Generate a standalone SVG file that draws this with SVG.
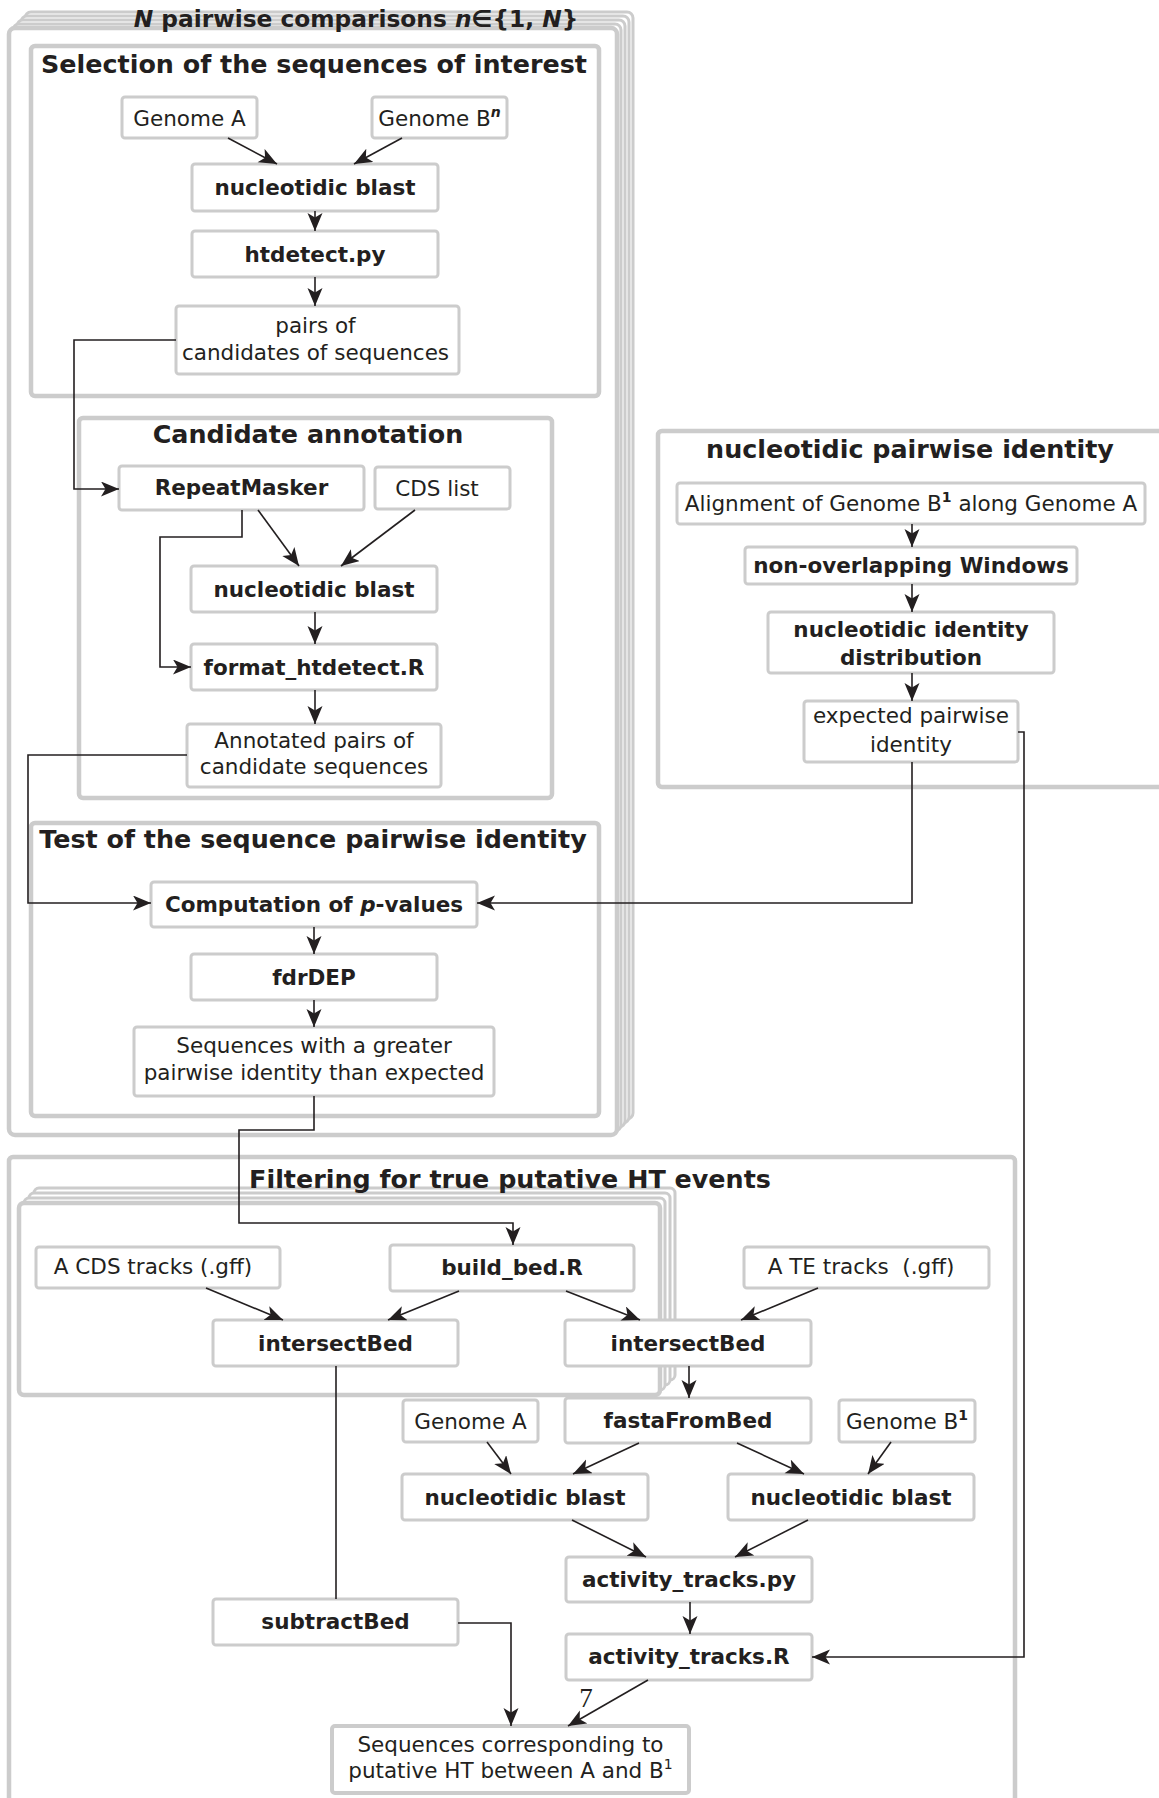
<svg xmlns="http://www.w3.org/2000/svg" width="1159" height="1798" viewBox="0 0 1159 1798">
<style>
text{font-family:"DejaVu Sans","Liberation Sans",sans-serif;fill:#231f20}
.t{font-size:25.4px;font-weight:bold;text-anchor:middle}
.n{font-size:21.5px;text-anchor:middle}
.b{font-size:21.5px;font-weight:bold;text-anchor:middle}
.box rect{fill:#fff;stroke:#cccccc;stroke-width:3}
.frame{fill:#fff;stroke:#cccccc;stroke-width:4.5}
.stack{fill:#fff;stroke:#cccccc;stroke-width:3}
.c path{fill:none;stroke:#231f20;stroke-width:1.6}
.sup{font-size:14px}
</style>
<defs>
<marker id="a" markerUnits="userSpaceOnUse" markerWidth="20" markerHeight="18" refX="18" refY="7.5" orient="auto">
<path d="M0,0 L18,7.5 L0,15 L4.5,7.5 z" fill="#231f20"/>
</marker>
</defs>

<!-- Outer stacked frame -->
<g id="frame-n-pairwise">
<rect class="stack" x="25" y="12" width="608" height="1107" rx="6"/>
<rect class="stack" x="21" y="16" width="608" height="1107" rx="6"/>
<rect class="stack" x="17" y="20" width="608" height="1107" rx="6"/>
<rect class="stack" x="13" y="24" width="608" height="1107" rx="6"/>
<rect class="frame" x="9" y="28" width="608" height="1107" rx="6"/>
<text x="356" y="27" style="font-size:23.3px;font-weight:bold;text-anchor:middle"><tspan font-style="italic">N</tspan> pairwise comparisons <tspan font-style="italic">n</tspan>∈{1, <tspan font-style="italic">N</tspan>}</text>
</g>

<g id="frame-selection">
<rect class="frame" x="31" y="46" width="568" height="350" rx="4"/>
<text class="t" x="314" y="73">Selection of the sequences of interest</text>
</g>
<g id="frame-annotation">
<rect class="frame" x="79" y="418" width="473" height="380" rx="4"/>
<text class="t" x="308" y="443">Candidate annotation</text>
</g>
<g id="frame-test">
<rect class="frame" x="31" y="823" width="568" height="293" rx="4"/>
<text class="t" x="313" y="848">Test of the sequence pairwise identity</text>
</g>
<g id="frame-npi">
<rect class="frame" x="658" y="431" width="520" height="356" rx="4"/>
<text class="t" x="910" y="458">nucleotidic pairwise identity</text>
</g>
<g id="frame-filtering">
<rect class="frame" x="9" y="1157" width="1006" height="700" rx="4"/>
</g>
<g id="frame-inner-stack">
<rect class="stack" x="34" y="1188" width="641" height="192" rx="5"/>
<rect class="stack" x="29" y="1193" width="641" height="192" rx="5"/>
<rect class="stack" x="24" y="1198" width="641" height="192" rx="5"/>
<rect class="frame" x="19" y="1203" width="641" height="192" rx="5"/>
</g>
<text class="t" x="510" y="1188">Filtering for true putative HT events</text>

<!-- Nodes -->
<g class="box">
<g id="sel-genomeA"><rect x="122" y="97" width="135" height="41" rx="3"/><text class="n" x="189.5" y="125.5">Genome A</text></g>
<g id="sel-genomeB"><rect x="372" y="97" width="135" height="41" rx="3"/><text class="n" x="439.5" y="125.5">Genome B<tspan class="sup" dy="-9" font-weight="bold" font-style="italic">n</tspan></text></g>
<g id="sel-blast"><rect x="192" y="164" width="246" height="47" rx="3"/><text class="b" x="315" y="195">nucleotidic blast</text></g>
<g id="sel-htdetect"><rect x="192" y="231" width="246" height="46" rx="3"/><text class="b" x="315" y="261.5">htdetect.py</text></g>
<g id="sel-pairs"><rect x="176" y="306" width="283" height="68" rx="3"/><text class="n" x="315.5" y="333">pairs of</text><text class="n" x="315.5" y="360">candidates of sequences</text></g>

<g id="ann-repeatmasker"><rect x="119" y="466" width="245" height="44" rx="3"/><text class="b" x="241.5" y="494.5">RepeatMasker</text></g>
<g id="ann-cds"><rect x="375" y="467" width="135" height="42" rx="3"/><text class="n" x="437" y="496">CDS list</text></g>
<g id="ann-blast"><rect x="191" y="566" width="246" height="46" rx="3"/><text class="b" x="314" y="596.5">nucleotidic blast</text></g>
<g id="ann-format"><rect x="191" y="644" width="246" height="46" rx="3"/><text class="b" x="314" y="674.5">format_htdetect.R</text></g>
<g id="ann-annotated"><rect x="187" y="724" width="254" height="63" rx="3"/><text class="n" x="314" y="748">Annotated pairs of</text><text class="n" x="314" y="774">candidate sequences</text></g>

<g id="test-computation"><rect x="151" y="882" width="326" height="45" rx="3"/><text class="b" x="314" y="912">Computation of <tspan font-style="italic">p</tspan>-values</text></g>
<g id="test-fdrdep"><rect x="191" y="954" width="246" height="46" rx="3"/><text class="b" x="314" y="984.5">fdrDEP</text></g>
<g id="test-greater"><rect x="134" y="1027" width="360" height="69" rx="3"/><text class="n" x="314" y="1053">Sequences with a greater</text><text class="n" x="314" y="1080">pairwise identity than expected</text></g>

<g id="npi-alignment"><rect x="677" y="483" width="468" height="41" rx="3"/><text class="n" x="911" y="511">Alignment of Genome B<tspan class="sup" dy="-9" font-weight="bold">1</tspan><tspan dy="9"> along Genome A</tspan></text></g>
<g id="npi-windows"><rect x="745" y="547" width="332" height="37" rx="3"/><text class="b" x="911" y="573">non-overlapping Windows</text></g>
<g id="npi-distribution"><rect x="768" y="612" width="286" height="61" rx="3"/><text class="b" x="911" y="637">nucleotidic identity</text><text class="b" x="911" y="665">distribution</text></g>
<g id="npi-expected"><rect x="804" y="701" width="214" height="61" rx="3"/><text class="n" x="911" y="723">expected pairwise</text><text class="n" x="911" y="752">identity</text></g>

<g id="f-cds-tracks"><rect x="36" y="1247" width="244" height="41" rx="3"/><text class="n" x="153" y="1274">A CDS tracks (.gff)</text></g>
<g id="f-build-bed"><rect x="390" y="1245" width="244" height="46" rx="3"/><text class="b" x="512" y="1275">build_bed.R</text></g>
<g id="f-te-tracks"><rect x="744" y="1247" width="245" height="41" rx="3"/><text class="n" x="861" y="1274" xml:space="preserve">A TE tracks  (.gff)</text></g>
<g id="f-intersect-l"><rect x="213" y="1320" width="245" height="46" rx="3"/><text class="b" x="335.5" y="1350.5">intersectBed</text></g>
<g id="f-intersect-r"><rect x="565" y="1320" width="246" height="46" rx="3"/><text class="b" x="688" y="1350.5">intersectBed</text></g>
<g id="f-genomeA"><rect x="403" y="1400" width="135" height="42" rx="3"/><text class="n" x="470.5" y="1428.5">Genome A</text></g>
<g id="f-fasta"><rect x="565" y="1398" width="246" height="45" rx="3"/><text class="b" x="688" y="1428">fastaFromBed</text></g>
<g id="f-genomeB"><rect x="839" y="1400" width="136" height="42" rx="3"/><text class="n" x="907" y="1428.5">Genome B<tspan class="sup" dy="-9" font-weight="bold">1</tspan></text></g>
<g id="f-blast-l"><rect x="402" y="1474" width="246" height="46" rx="3"/><text class="b" x="525" y="1504.5">nucleotidic blast</text></g>
<g id="f-blast-r"><rect x="728" y="1474" width="246" height="46" rx="3"/><text class="b" x="851" y="1504.5">nucleotidic blast</text></g>
<g id="f-activity-py"><rect x="566" y="1557" width="246" height="45" rx="3"/><text class="b" x="689" y="1587">activity_tracks.py</text></g>
<g id="f-subtract"><rect x="213" y="1599" width="245" height="46" rx="3"/><text class="b" x="335.5" y="1629">subtractBed</text></g>
<g id="f-activity-r"><rect x="566" y="1634" width="246" height="46" rx="3"/><text class="b" x="689" y="1664">activity_tracks.R</text></g>
<g id="f-final"><rect x="332" y="1726" width="357" height="67" rx="3" style="stroke-width:4"/><text class="n" x="510.5" y="1752">Sequences corresponding to</text><text class="n" x="510.5" y="1778">putative HT between A and B<tspan class="sup" dy="-9">1</tspan></text></g>
</g>

<!-- Connectors -->
<g id="connectors" class="c">
<path d="M176,340 H74 V489 H119" marker-end="url(#a)"/>
<path d="M258,510 L299,566" marker-end="url(#a)"/>
<path d="M415,510 L341,566" marker-end="url(#a)"/>
<path d="M242,510 V537 H160 V667 H191" marker-end="url(#a)"/>
<path d="M315,612 V644" marker-end="url(#a)"/>
<path d="M315,690 V724" marker-end="url(#a)"/>
<path d="M187,755 H28 V903 H151" marker-end="url(#a)"/>
<path d="M912,762 V903 H477" marker-end="url(#a)"/>
<path d="M1018,732 H1024 V1657 H812" marker-end="url(#a)"/>
<path d="M228,138 L277,164" marker-end="url(#a)"/>
<path d="M402,138 L354,164" marker-end="url(#a)"/>
<path d="M315,211 V231" marker-end="url(#a)"/>
<path d="M315,277 V306" marker-end="url(#a)"/>
<path d="M314,927 V954" marker-end="url(#a)"/>
<path d="M314,1000 V1027" marker-end="url(#a)"/>
<path d="M314,1096 V1130 H239 V1223 H513 V1245" marker-end="url(#a)"/>
<path d="M912,524 V547" marker-end="url(#a)"/>
<path d="M912,584 V612" marker-end="url(#a)"/>
<path d="M912,673 V701" marker-end="url(#a)"/>
<path d="M206,1288 L283,1320" marker-end="url(#a)"/>
<path d="M459,1291 L388,1320" marker-end="url(#a)"/>
<path d="M566,1291 L640,1320" marker-end="url(#a)"/>
<path d="M818,1288 L741,1320" marker-end="url(#a)"/>
<path d="M689,1366 V1398" marker-end="url(#a)"/>
<path d="M487,1442 L511,1474" marker-end="url(#a)"/>
<path d="M639,1443 L573,1474" marker-end="url(#a)"/>
<path d="M737,1443 L804,1474" marker-end="url(#a)"/>
<path d="M891,1442 L868,1474" marker-end="url(#a)"/>
<path d="M572,1520 L646,1557" marker-end="url(#a)"/>
<path d="M808,1520 L735,1557" marker-end="url(#a)"/>
<path d="M690,1602 V1634" marker-end="url(#a)"/>
<path d="M336,1366 V1599"/>
<path d="M458,1623 H511 V1726" marker-end="url(#a)"/>
<path d="M648,1680 L568,1726" marker-end="url(#a)"/>
</g>
<text x="586" y="1707" style="font-family:'Liberation Serif',serif;font-size:27px;text-anchor:middle">7</text>
</svg>
